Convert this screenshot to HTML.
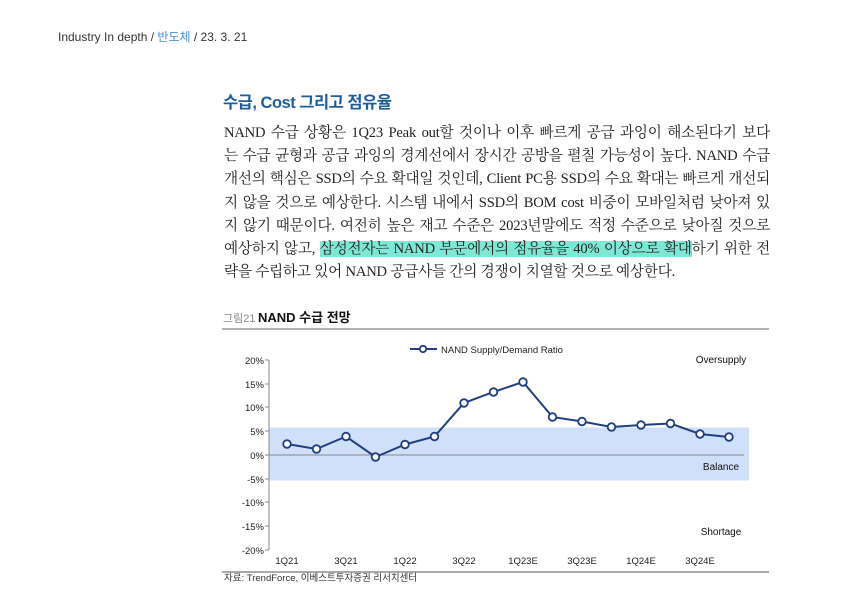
<!DOCTYPE html>
<html><head><meta charset="utf-8"><style>
body{margin:0;width:850px;height:606px;background:#fff;position:relative;overflow:hidden;font-family:"Liberation Sans","Noto Sans CJK KR",sans-serif}
.hdr{position:absolute;left:58px;top:28px;font-size:12px;color:#333}
.h2{position:absolute;left:223px;top:89px;font-size:16.5px;color:#1f5e9c;font-weight:bold;letter-spacing:-0.5px}
.p{position:absolute;left:224px;top:122px;width:546px;font-family:"Liberation Serif","Noto Serif CJK SC","Noto Sans CJK KR",serif;font-size:14.6px;line-height:23.2px;color:#222;letter-spacing:-0.2px}
.p div{width:546px;text-align:justify;text-align-last:justify;white-space:normal;overflow:hidden;height:23.2px}
.hl{background:#7ee8d6}
</style></head><body>
<div class="hdr">Industry In depth / <span style="color:#4a8fd0">반도체</span> / 23. 3. 21</div>
<div class="h2">수급, Cost 그리고 점유율</div>
<div class="p">
<div>NAND 수급 상황은 1Q23 Peak out할 것이나 이후 빠르게 공급 과잉이 해소된다기 보다</div>
<div>는 수급 균형과 공급 과잉의 경계선에서 장시간 공방을 펼칠 가능성이 높다. NAND 수급</div>
<div>개선의 핵심은 SSD의 수요 확대일 것인데, Client PC용 SSD의 수요 확대는 빠르게 개선되</div>
<div>지 않을 것으로 예상한다. 시스템 내에서 SSD의 BOM cost 비중이 모바일처럼 낮아져 있</div>
<div>지 않기 때문이다. 여전히 높은 재고 수준은 2023년말에도 적정 수준으로 낮아질 것으로</div>
<div>예상하지 않고, <span class="hl">삼성전자는 NAND 부문에서의 점유율을 40% 이상으로 확대</span>하기 위한 전</div>
<div style="text-align-last:left">략을 수립하고 있어 NAND 공급사들 간의 경쟁이 치열할 것으로 예상한다.</div>
</div>
<svg width="850" height="606" style="position:absolute;left:0;top:0" font-family="Liberation Sans, Noto Sans CJK KR, sans-serif">
<text x="223" y="322" font-size="11" fill="#888">그림21</text>
<text x="258" y="322" font-size="13" font-weight="bold" fill="#111">NAND 수급 전망</text>
<line x1="222" y1="329" x2="769" y2="329" stroke="#999" stroke-width="1.5"/>
<rect x="269" y="427.5" width="480" height="53" fill="#cfe0fb"/>
<line x1="269" y1="360" x2="269" y2="550" stroke="#888"/>
<g stroke="#888"><line x1="265" y1="360" x2="269" y2="360"/><line x1="265" y1="384" x2="269" y2="384"/><line x1="265" y1="407" x2="269" y2="407"/><line x1="265" y1="431" x2="269" y2="431"/><line x1="265" y1="455" x2="269" y2="455"/><line x1="265" y1="479" x2="269" y2="479"/><line x1="265" y1="502" x2="269" y2="502"/><line x1="265" y1="526" x2="269" y2="526"/><line x1="265" y1="550" x2="269" y2="550"/>
<line x1="269" y1="455" x2="744" y2="455"/></g>
<g font-size="9.5" fill="#222" text-anchor="end">
<text x="264" y="364">20%</text><text x="264" y="388">15%</text><text x="264" y="411">10%</text><text x="264" y="435">5%</text><text x="264" y="459">0%</text><text x="264" y="483">-5%</text><text x="264" y="506">-10%</text><text x="264" y="530">-15%</text><text x="264" y="554">-20%</text></g>
<g font-size="9.5" fill="#222" text-anchor="middle">
<text x="287" y="564">1Q21</text><text x="346" y="564">3Q21</text><text x="405" y="564">1Q22</text><text x="464" y="564">3Q22</text><text x="523" y="564">1Q23E</text><text x="582" y="564">3Q23E</text><text x="641" y="564">1Q24E</text><text x="700" y="564">3Q24E</text></g>
<g font-size="10" fill="#111" text-anchor="middle">
<text x="721" y="363">Oversupply</text><text x="721" y="470">Balance</text><text x="721" y="535">Shortage</text></g>
<line x1="410" y1="349" x2="437" y2="349" stroke="#1f3f7f" stroke-width="2"/>
<circle cx="423" cy="349" r="3.2" fill="#fff" stroke="#1f3f7f" stroke-width="1.8"/>
<text x="441" y="353" font-size="9.5" fill="#222">NAND Supply/Demand Ratio</text>
<polyline fill="none" stroke="#1f3f7f" stroke-width="2" points="287,444 316.5,449 346,436.5 375.5,457 405,444.5 434.5,436.5 464,403 493.5,392 523,382 552.5,417 582,421.5 611.5,427 641,425 670.5,423.5 700,434 729,437"/>
<g fill="#fff" stroke="#1f3f7f" stroke-width="1.8">
<circle cx="287" cy="444" r="3.8"/><circle cx="316.5" cy="449" r="3.8"/><circle cx="346" cy="436.5" r="3.8"/><circle cx="375.5" cy="457" r="3.8"/><circle cx="405" cy="444.5" r="3.8"/><circle cx="434.5" cy="436.5" r="3.8"/><circle cx="464" cy="403" r="3.8"/><circle cx="493.5" cy="392" r="3.8"/><circle cx="523" cy="382" r="3.8"/><circle cx="552.5" cy="417" r="3.8"/><circle cx="582" cy="421.5" r="3.8"/><circle cx="611.5" cy="427" r="3.8"/><circle cx="641" cy="425" r="3.8"/><circle cx="670.5" cy="423.5" r="3.8"/><circle cx="700" cy="434" r="3.8"/><circle cx="729" cy="437" r="3.8"/></g>
<line x1="222" y1="572" x2="769" y2="572" stroke="#555" stroke-width="1"/>
<text x="224" y="581" font-size="9.5" fill="#333">자료: TrendForce, 이베스트투자증권 리서치센터</text>
</svg>
</body></html>
